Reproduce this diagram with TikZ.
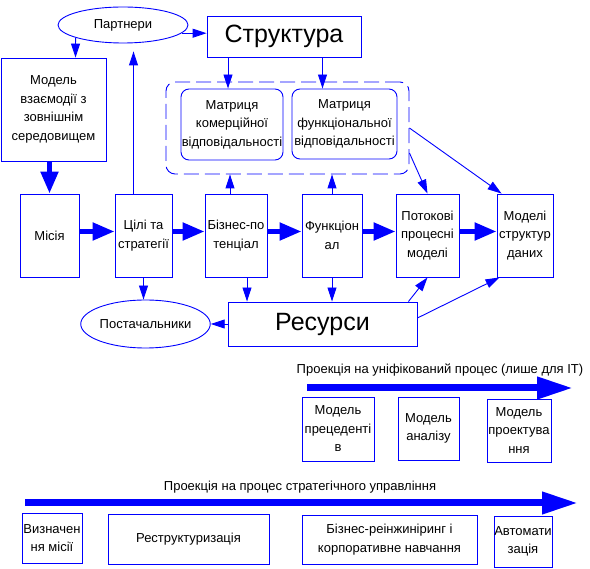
\documentclass[tikz,border=0pt]{standalone}
\usepackage{fontspec}
\setmainfont{Liberation Sans}
\usetikzlibrary{arrows.meta,shapes.geometric,calc}
\tikzset{
  bx/.style={draw=blue,line width=.9pt,inner sep=0pt,align=center,font=\fontsize{13}{18.5}\selectfont},
  ov/.style={bx,ellipse},
  ln/.style={draw=blue,line width=.9pt,-{Triangle[length=14pt,width=9pt]}},
  fat/.style={draw=blue,line width=5pt,-{Triangle[length=22pt,width=17pt]}},
  bigarr/.style={draw=blue,line width=7pt,-{Triangle[length=36pt,width=21pt]}}
}
\begin{document}
\begin{tikzpicture}[x=1pt,y=-1pt]
\useasboundingbox (0,0) rectangle (590,569);
\node[ov,minimum width=130,minimum height=36](partn)at(123,25){Партнери};
\node[bx,minimum width=154,minimum height=41,font=\fontsize{25}{30}\selectfont](struct)at(284,36.5){Структура};
\node[bx,minimum width=105,minimum height=103](env)at(53.5,109.5){Модель\\взаємодії з\\зовнішнім\\середовищем};
\node[draw=blue,line width=.9pt,dash pattern=on 15pt off 6pt,rounded corners=9pt,minimum width=243,minimum height=92](grp)at(287.5,128){};
\node[bx,rounded corners=8pt,minimum width=102,minimum height=71](mcom)at(232,124.5){Матриця\\комерційної\\відповідальності};
\node[bx,rounded corners=8pt,minimum width=105,minimum height=70](mfun)at(344.5,124){Матриця\\функціональної\\відповідальності};
% main row
\foreach \n/\cx/\w/\t in {mis/49.5/59/{Місія},goals/143.5/57/{Цілі та\\стратегії},pot/236/62/{Бізнес-по\\тенціал},func/332/60/{Функціон\\ал},flow/427.5/63/{Потокові\\процесні\\моделі},data/525/56/{Моделі\\структур\\даних}}
  \node[bx,minimum width=\w,minimum height=83](\n)at(\cx,235.5){\t};
\node[ov,minimum width=119,minimum height=48](supp)at(145.5,324){Постачальники};
\node[bx,minimum width=189,minimum height=44,font=\fontsize{25}{30}\selectfont](res)at(322.5,324){Ресурси};
\draw[ln](partn.-8)--(partn.-8 -| struct.west);
\draw[ln](partn.195)--([xshift=22pt]env.north);
\draw[ln]([xshift=-4pt]mcom.north |- struct.south)--([xshift=-4pt]mcom.north);
\draw[ln]([xshift=-22pt]mfun.north |- struct.south)--([xshift=-22pt]mfun.north);
\draw[fat](env.south -| mis.north)--(mis.north);
\foreach \a/\b in {mis/goals,goals/pot,pot/func,func/flow,flow/data}
  \draw[fat]([yshift=4pt]\a.east)--([yshift=4pt]\b.west);
\draw[ln,shorten >=8pt]([xshift=-10pt]goals.north)--([xshift=-10pt]goals.north |- partn.south);
\draw[ln]([xshift=-6pt]pot.north)--([xshift=-6pt]pot.north |- grp.south);
\draw[ln](func.north)--(func.north |- grp.south);
\draw[ln]($(grp.east)+(0,25)$)--(flow.north);
\draw[ln](grp.east)--([xshift=5pt]data.north west);
\draw[ln](goals.south)--(goals.south |- supp.north);
\draw[ln]([xshift=11pt]pot.south)--([xshift=11pt]pot.south |- res.north);
\draw[ln](func.south)--(func.south |- res.north);
\draw[ln](res.west)--(supp.east);
\draw[ln]([xshift=-9pt]res.north east)--(flow.south);
\draw[ln]([yshift=6pt]res.east)--([xshift=3pt]data.south west);
% projections
\node[font=\fontsize{13}{16}\selectfont](uproj)at(440,370){Проекція на уніфікований процес (лише для IT)};
\coordinate(ua)at(307,388);\coordinate(ub)at(573,388);
\draw[bigarr](ua)--(ub);
\node[bx,minimum width=72,minimum height=64](usec)at(338,429){Модель\\прецеденті\\в};
\node[bx,minimum width=61,minimum height=63](anl)at(428.5,428.5){Модель\\аналізу};
\node[bx,minimum width=64,minimum height=63](dsgn)at(519,430.5){Модель\\проектува\\ння};
\node[font=\fontsize{13}{16}\selectfont](sproj)at(300,487){Проекція на процес стратегічного управління};
\coordinate(sa)at(25,503);\coordinate(sb)at(578,503);
\draw[bigarr](sa)--(sb);
\node[bx,minimum width=60,minimum height=50](defm)at(52,538){Визначен\\ня місії};
\node[bx,minimum width=161,minimum height=50](restr)at(188.5,539){Реструктуризація};
\node[bx,minimum width=175,minimum height=49](bpr)at(389.5,539.5){Бізнес-реінжиніринг і\\корпоративне навчання};
\node[bx,minimum width=58,minimum height=51](autom)at(523,541.5){Автомати\\зація};
\end{tikzpicture}
\end{document}
